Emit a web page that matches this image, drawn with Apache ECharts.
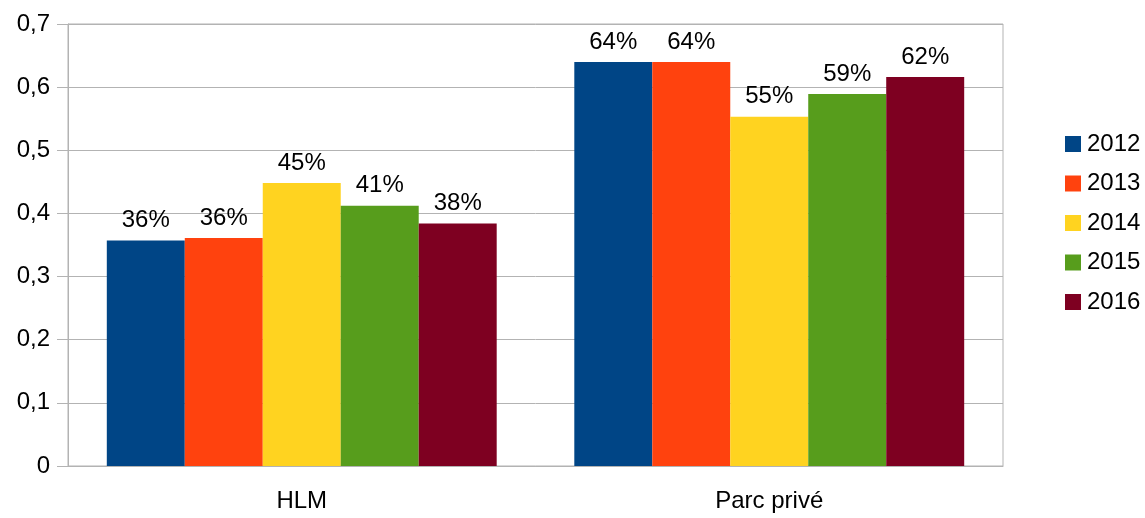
<!DOCTYPE html>
<html>
<head>
<meta charset="utf-8">
<script src="https://cdn.jsdelivr.net/npm/echarts@6/dist/echarts.min.js"></script>
<style>
  html, body { margin: 0; padding: 0; background: #fff; }
  #chart { width: 1145px; height: 518px; }
</style>
</head>
<body>
<div id="chart"></div>
<script>
// Housing categories and yearly shares
const categories = ['HLM', 'Parc privé'];
const years = ['2012', '2013', '2014', '2015', '2016'];
const values2012 = [0.357, 0.640];
const values2013 = [0.361, 0.640];
const values2014 = [0.448, 0.553];
const values2015 = [0.412, 0.589];
const values2016 = [0.384, 0.616];
const yTicks = [0, 0.1, 0.2, 0.3, 0.4, 0.5, 0.6, 0.7];

const seriesValues = [values2012, values2013, values2014, values2015, values2016];
const colors = ['#004586', '#ff420e', '#ffd320', '#579d1c', '#7e0021'];
const FONT = '"Liberation Sans", Arial, sans-serif';
const GRID_GREY = '#b3b3b3';

const chart = echarts.init(document.getElementById('chart'), null, { renderer: 'canvas' });

chart.setOption({
  animation: false,
  backgroundColor: '#ffffff',
  textStyle: { fontFamily: FONT },
  grid: {
    left: 68, right: 142, top: 24, bottom: 52,
    show: true, borderColor: GRID_GREY, borderWidth: 1
  },
  legend: {
    orient: 'vertical',
    left: 1060,
    top: 127,
    itemWidth: 16,
    itemHeight: 16,
    itemGap: 15.5,
    icon: 'rect',
    textStyle: { fontFamily: FONT, fontSize: 24, color: '#000', padding: [0, 0, 0, 1] },
    data: years
  },
  xAxis: {
    type: 'category',
    data: categories,
    axisLine: { lineStyle: { color: GRID_GREY } },
    axisTick: { length: 11, lineStyle: { color: GRID_GREY } },
    axisLabel: { color: '#000', fontFamily: FONT, fontSize: 24, margin: 23 }
  },
  yAxis: {
    type: 'value',
    min: yTicks[0],
    max: yTicks[yTicks.length - 1],
    interval: 0.1,
    axisLine: { show: true, lineStyle: { color: GRID_GREY } },
    axisTick: { show: true, length: 11, lineStyle: { color: GRID_GREY } },
    splitLine: { lineStyle: { color: GRID_GREY } },
    axisLabel: {
      color: '#000', fontFamily: FONT, fontSize: 24, margin: 18,
      formatter: v => {
        const t = yTicks.find(k => Math.abs(k - v) < 1e-9);
        return String(t === undefined ? v : Math.round(t * 10) / 10).replace('.', ',');
      }
    }
  },
  series: years.map((y, i) => ({
    name: y,
    type: 'bar',
    data: seriesValues[i],
    barGap: '0%',
    barCategoryGap: '16.6%',
    itemStyle: { color: colors[i] },
    label: {
      show: true,
      position: 'top',
      distance: 8,
      color: '#000',
      fontFamily: FONT,
      fontSize: 24,
      formatter: p => Math.round(p.value * 100) + '%'
    }
  }))
});
</script>
</body>
</html>
